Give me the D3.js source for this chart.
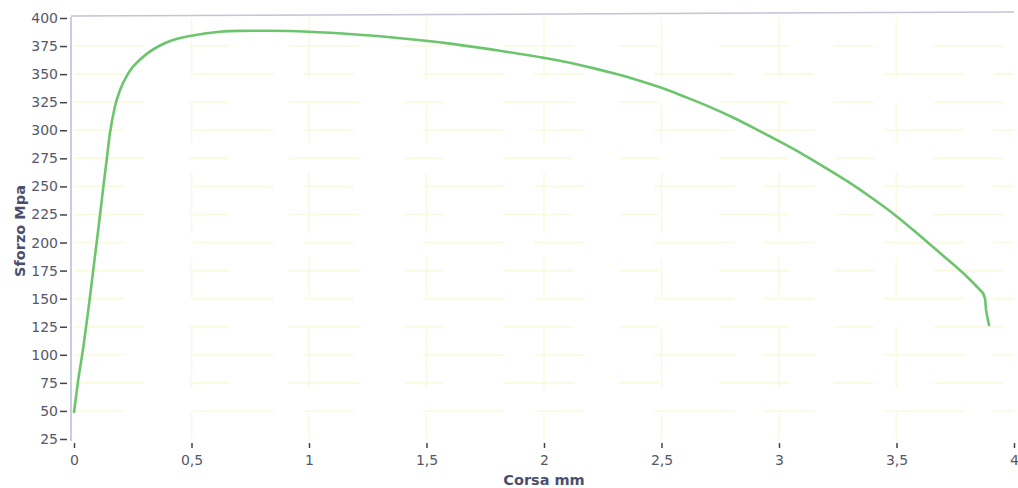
<!DOCTYPE html>
<html><head><meta charset="utf-8">
<script src="https://cdn.jsdelivr.net/npm/d3@7"></script>
<style>
html,body{margin:0;padding:0;background:#fff;}
svg{display:block;}
</style></head>
<body>
<svg id="chart" width="1018" height="488"></svg>
<script>
// Data (Corsa mm vs Sforzo MPa)
const corsa = [0.000,0.018,0.040,0.061,0.082,0.103,0.125,0.139,0.153,0.174,0.196,0.231,0.295,0.366,0.409,0.506,0.621,0.706,0.834,1.000,1.200,1.400,1.600,1.800,2.000,2.100,2.200,2.300,2.400,2.500,2.600,2.700,2.800,2.900,3.000,3.100,3.200,3.300,3.400,3.500,3.600,3.700,3.800,3.868];
const sforzo = [49,77.6,107.3,140,175.6,211.2,249.8,273.5,297.3,321,335.9,350.7,365.5,375.5,379.5,384.5,387.8,388.5,388.7,387.8,385.3,381.8,377.2,371.2,364.5,360.6,355.8,350.5,344.6,337.8,329.8,321.3,311.8,301.3,290.3,278.8,266.3,253.3,239,223.5,206,188,169.5,155];
// final drop at fracture
const corsaDrop = [3.868,3.877,3.881,3.885,3.894];
const sforzoDrop = [155,150,140,135,126.6];
const xTicks = [0,0.5,1,1.5,2,2.5,3,3.5,4];
const yTicks = [25,50,75,100,125,150,175,200,225,250,275,300,325,350,375,400];
const xTitle = "Corsa mm";
const yTitle = "Sforzo Mpa";

const svg = d3.select("#chart");
const x = d3.scaleLinear().domain([0,4]).range([74,1014]);
const y = d3.scaleLinear().domain([25,400]).range([439,18]);
const fmt = d => String(d).replace('.', ',');
const font = "'DejaVu Sans', Verdana, sans-serif";

// faint yellow grid (patchy, like the scanned original)
const grid = svg.append("g").attr("stroke","#f8f6cf").attr("stroke-width",1.6).attr("opacity",0.6);
grid.selectAll(".hg").data(yTicks.slice(1,-1)).join("line")
  .attr("x1",x(0)).attr("x2",x(4)).attr("y1",d=>y(d)).attr("y2",d=>y(d))
  .attr("stroke-dasharray",(d,i)=> i%2 ? "70,45,40,60" : "50,70,80,30");
grid.selectAll(".vg").data(xTicks.slice(1,-1)).join("line")
  .attr("x1",d=>x(d)).attr("x2",d=>x(d)).attr("y1",y(400)).attr("y2",y(25))
  .attr("stroke-dasharray","60,25,40,30");

// top border
svg.append("line").attr("x1",71).attr("x2",1014).attr("y1",16).attr("y2",12)
  .attr("stroke","#c3c4d4").attr("stroke-width",1.5);

// Y axis
const yAxis = svg.append("g").attr("transform","translate(71,0)")
  .call(d3.axisLeft(y).tickValues(yTicks).tickSize(0).tickPadding(13));
yAxis.select(".domain").attr("stroke","#b9bcd9").attr("stroke-width",1.5).attr("d","M0,17V441");
yAxis.selectAll(".tick").append("line").attr("x1",-11).attr("x2",-4).attr("stroke","#444").attr("stroke-width",1.5);
yAxis.selectAll("text").attr("font-family",font).attr("font-size",14).attr("fill","#55576a");

// X axis
const xAxis = svg.append("g").attr("transform","translate(0,441)")
  .call(d3.axisBottom(x).tickValues(xTicks).tickFormat(fmt).tickSize(0).tickPadding(14));
xAxis.select(".domain").remove();
xAxis.selectAll(".tick").append("line").attr("y1",2).attr("y2",7).attr("stroke","#444").attr("stroke-width",1.5);
xAxis.selectAll("text").attr("font-family",font).attr("font-size",14).attr("fill","#55576a");

// titles
svg.append("text").attr("x",544).attr("y",485).attr("text-anchor","middle")
  .attr("font-family",font).attr("font-weight","bold")
  .attr("font-size",14.5).attr("fill","#4c4f6c").text(xTitle);
svg.append("text").attr("transform","translate(25,231) rotate(-90)").attr("text-anchor","middle")
  .attr("font-family",font).attr("font-weight","bold")
  .attr("font-size",14.5).attr("fill","#4c4f6c").text(yTitle);

// curve
const pts = corsa.map((c,i)=>[c, sforzo[i]]);
const drop = corsaDrop.map((c,i)=>[c, sforzoDrop[i]]);
const curveG = svg.append("g").attr("fill","none").attr("stroke","#6cc56c").attr("stroke-width",2.6)
  .attr("stroke-linejoin","round").attr("stroke-linecap","round");
curveG.append("path").datum(pts)
  .attr("d", d3.line().x(d=>x(d[0])).y(d=>y(d[1])).curve(d3.curveMonotoneX));
curveG.append("path").datum(drop)
  .attr("d", d3.line().x(d=>x(d[0])).y(d=>y(d[1])));
</script>
</body></html>
